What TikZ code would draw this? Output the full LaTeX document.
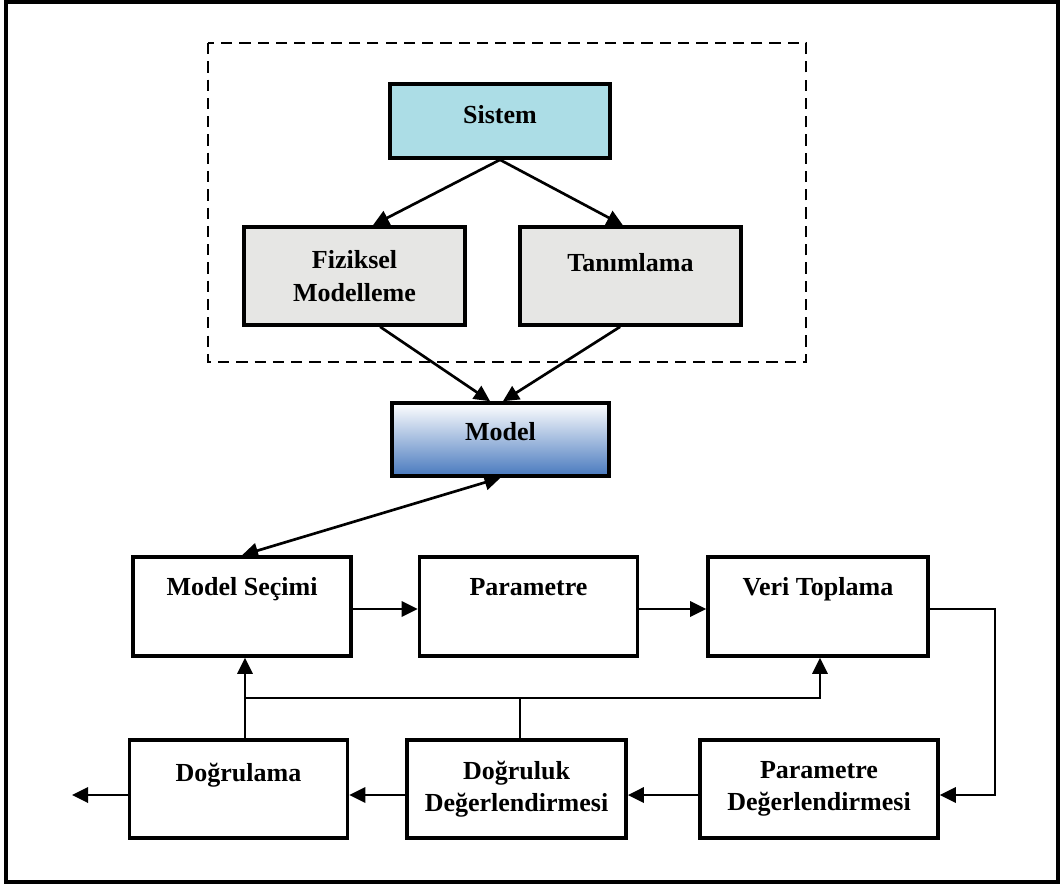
\documentclass[tikz,border=0pt]{standalone}
\usepackage{fontspec}
\setmainfont{Liberation Serif}
\usepackage{tikz}
\usetikzlibrary{arrows.meta,positioning}
\definecolor{waterx}{HTML}{ACDDE6}
\definecolor{stonex}{HTML}{E6E6E4}
\definecolor{bluex}{HTML}{4879BE}
\tikzset{
  ar/.style={-{Triangle[length=4mm,width=3.8mm]},line width=1.9pt},
  dar/.style={{Triangle[length=4mm,width=3.8mm]}-{Triangle[length=4mm,width=3.8mm]},line width=1.9pt},
  ln/.style={line width=1.9pt},
  box/.style={draw,line width=2.5pt,align=center,inner sep=0pt,
    font=\fontsize{18.5}{23}\selectfont\bfseries},
  upbox/.style={box,minimum width=5.52cm,minimum height=2.45cm,fill=stonex},
  lowbox/.style={box,minimum width=5.45cm,text height=0.95cm,text depth=1.525cm},
  twobox/.style={box,minimum width=5.45cm,minimum height=2.45cm}
}
\begin{document}
\begin{tikzpicture}[x=0.025cm,y=-0.025cm]
\useasboundingbox (0,0) rectangle (1062,884);
\draw[line width=2.2pt] (6,2) rectangle (1058,882);
\draw[line width=1.8pt,dash pattern=on 8pt off 5pt] (208,43) rectangle (806,362);

% upper part
\node[box,fill=waterx,minimum width=5.5cm,text height=0.975cm,text depth=0.875cm] (sys) at (500,121) {Sistem};
\node[upbox] (fiz) at (354.5,276) {Fiziksel\\Modelleme};
\node[upbox,text height=1.1cm,text depth=1.35cm] (tan) at (630.5,276) {Tanımlama};
\node[box,top color=white,bottom color=bluex,minimum width=5.42cm,
  text height=0.925cm,text depth=0.9cm] (mdl) at (500.5,439.5) {Model};

% lower part
\node[lowbox] (sec) at (242,606.5) {Model Seçimi};
\node[lowbox] (par) at (528.5,606.5) {Parametre};
\node[lowbox,minimum width=5.5cm] (veri) at (818,606.5) {Veri Toplama};
\node[lowbox,text height=1.025cm,text depth=1.425cm] (dog) at (238.5,789) {Doğrulama};
\node[twobox,minimum width=5.48cm] (dkd) at (516.5,789) {Doğruluk\\Değerlendirmesi};
\node[twobox,minimum width=5.95cm] (pd) at (819,789) {Parametre\\Değerlendirmesi};

\coordinate (out) at (72,795);
\coordinate (rt) at (995,609);
\coordinate (fb) at (245,698);

\draw[ar] (sys.south) -- ([xshift=0.46cm]fiz.north);
\draw[ar] (sys.south) -- ([xshift=-0.19cm]tan.north);
\draw[ar] ([xshift=0.64cm]fiz.south) -- ([xshift=-0.26cm]mdl.north);
\draw[ar] ([xshift=-0.26cm]tan.south) -- ([xshift=0.06cm]mdl.north);
\draw[dar] (sec.north) -- (mdl.south);

\draw[ar] (sec.east |- rt) -- (par.west |- rt);
\draw[ar] (par.east |- rt) -- (veri.west |- rt);
\draw[ar] (veri.east |- rt) -- (rt) |- (pd.east |- out);
\draw[ar] (pd.west |- out) -- (dkd.east |- out);
\draw[ar] (dkd.west |- out) -- (dog.east |- out);
\draw[ar] (dog.west |- out) -- (out);

\draw[ar] (dog.north -| fb) -- (sec.south -| fb);
\draw[ln] (dkd.north -| 520,0) -- (520,698);
\draw[ar] (fb) -| (veri.south -| 820,0);
\end{tikzpicture}
\end{document}
